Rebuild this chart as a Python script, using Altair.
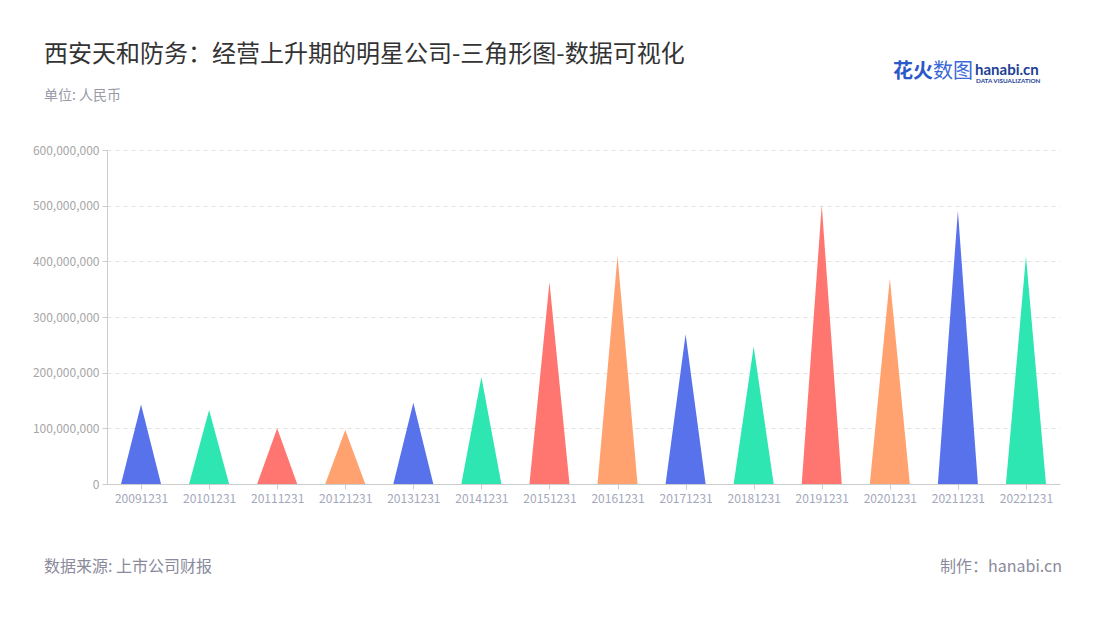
import altair as alt
import pandas as pd

# ---- data ----
periods = ["20091231", "20101231", "20111231", "20121231", "20131231", "20141231", "20151231",
           "20161231", "20171231", "20181231", "20191231", "20201231", "20211231", "20221231"]
values = [143000000, 133000000, 100000000, 97000000, 146000000, 192000000, 363000000,
          410000000, 269000000, 247000000, 501000000, 369000000, 491000000, 409000000]
palette = ["#5872ec", "#2ee6b1", "#ff7670", "#ffa26f"]
y_ticks = [0, 100000000, 200000000, 300000000, 400000000, 500000000, 600000000]

HALF = 0.294  # half base width of a triangle, in category units

rows = []
for i, (p, v) in enumerate(zip(periods, values)):
    grp = palette[i % len(palette)]
    rows.append({"period": p, "x": i - HALF, "y": 0, "c": grp})
    rows.append({"period": p, "x": i, "y": v, "c": grp})
    rows.append({"period": p, "x": i + HALF, "y": 0, "c": grp})
df = pd.DataFrame(rows)

FONT = "Noto Sans CJK SC"
label_expr = "[" + ",".join("'%s'" % p for p in periods) + "][datum.value]"

tri = alt.Chart(df).mark_area(opacity=1, interpolate="linear").encode(
    x=alt.X("x:Q", scale=alt.Scale(domain=[-0.5, len(periods) - 0.5], nice=False, zero=False),
            axis=alt.Axis(values=list(range(len(periods))), labelExpr=label_expr, grid=False,
                          domainColor="#cccccc", tickColor="#cccccc", tickSize=5,
                          labelColor="#a3a7bb", labelFontSize=12, labelFont=FONT,
                          labelPadding=4, title=None)),
    y=alt.Y("y:Q", scale=alt.Scale(domain=[0, 600000000], nice=False),
            axis=alt.Axis(values=y_ticks, labelExpr="format(datum.value, ',')",
                          gridDash=[4, 4], gridColor="#e3e3e3",
                          domainColor="#cccccc", tickColor="#cccccc", tickSize=5,
                          labelColor="#a6a6a6", labelFontSize=12, labelFont=FONT,
                          labelPadding=3, title=None)),
    detail="period:N",
    color=alt.Color("c:N", scale=None),
)

one = pd.DataFrame({"k": [0]})


def txt(text, x, y, size, color, align="left", weight="normal", font=FONT):
    return alt.Chart(one).mark_text(text=text, align=align, baseline="middle", fontSize=size,
                                    color=color, fontWeight=weight, font=font).encode(
        x=alt.value(x), y=alt.value(y))


title = txt("西安天和防务：经营上升期的明星公司-三角形图-数据可视化", -63, -95, 24, "#333333")
unit = txt("单位: 人民币", -63, -54, 14, "#9a9aa8")
source = txt("数据来源: 上市公司财报", -63, 417, 16, "#8a8a9c")
maker = txt("制作：hanabi.cn", 955, 417, 16, "#8a8a9c", align="right")
logo1 = txt("花火", 786, -78, 20, "#2a58c8", weight="bold")
logo2 = txt("数图", 826, -78, 20, "#3a68d8")
logo3 = txt("hanabi.cn", 868, -80, 15, "#1d3f96", weight="bold", font="Lato")
logo4 = txt("DATA VISUALIZATION", 869, -69, 6.3, "#1d3f96", weight="bold", font="Lato")

chart = alt.layer(tri, title, unit, source, maker, logo1, logo2, logo3, logo4).properties(
    width=953, height=334,
    padding={"left": 99, "top": 142, "right": 32, "bottom": 128},
    autosize=alt.AutoSizeParams(type="none"),
).configure(background="white").configure_view(stroke=None)

chart.save("out.html", embed_options={"renderer": "svg", "actions": False})
